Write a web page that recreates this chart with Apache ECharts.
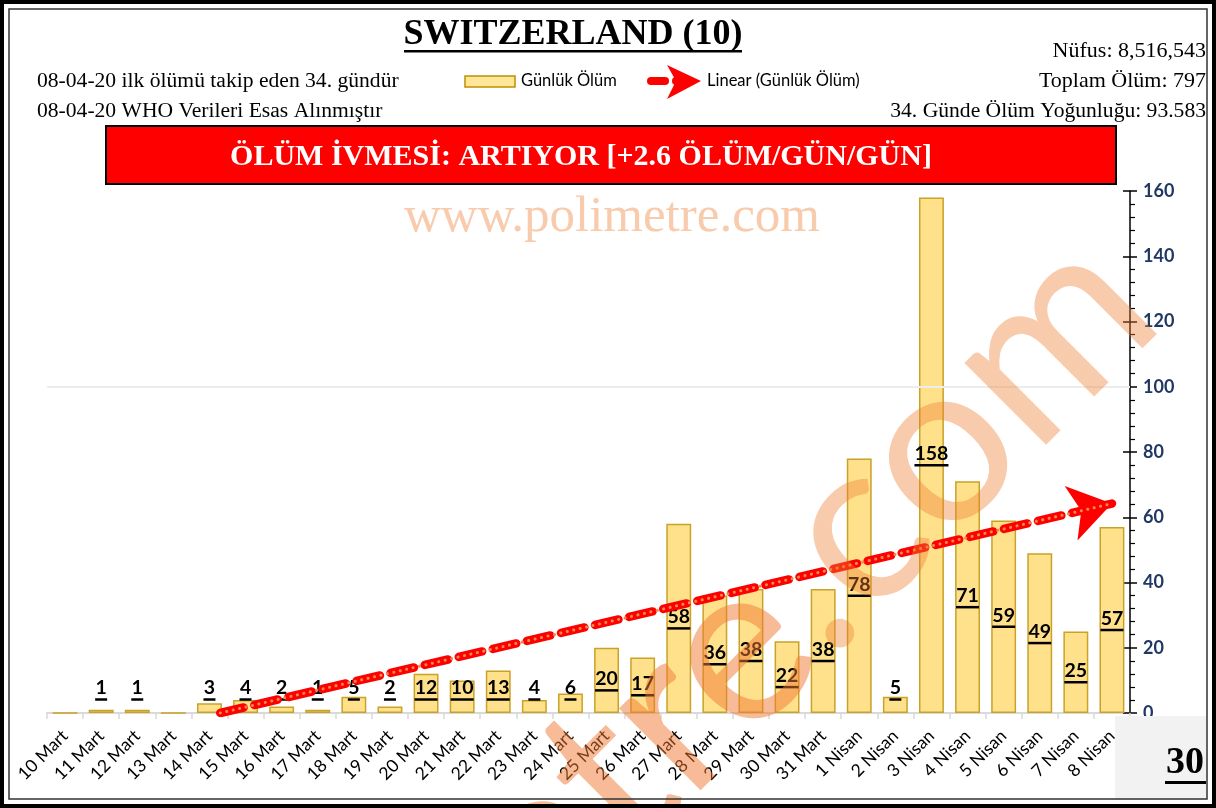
<!DOCTYPE html>
<html>
<head>
<meta charset="utf-8">
<script src="https://cdn.jsdelivr.net/npm/echarts@6/dist/echarts.min.js"></script>
<style>
html,body{margin:0;padding:0;background:#fff;}
#chart{width:1216px;height:808px;}
</style>
</head>
<body>
<div id="chart"></div>
<script>
// ---- data ----
const categories = ['10 Mart','11 Mart','12 Mart','13 Mart','14 Mart','15 Mart','16 Mart','17 Mart','18 Mart','19 Mart',
  '20 Mart','21 Mart','22 Mart','23 Mart','24 Mart','25 Mart','26 Mart','27 Mart','28 Mart','29 Mart','30 Mart','31 Mart',
  '1 Nisan','2 Nisan','3 Nisan','4 Nisan','5 Nisan','6 Nisan','7 Nisan','8 Nisan'];
const deaths = [0,1,1,0,3,4,2,1,5,2,12,10,13,4,6,20,17,58,36,38,22,38,78,5,158,71,59,49,25,57];
// linear trend end points (category index, value)
const trendX = [4.3, 29];
const trendY = [0, 64.2];
const yMin = 0, yMax = 160, yStep = 20;

const title = 'SWITZERLAND (10)';
const leftNotes = ['08-04-20 ilk ölümü takip eden 34. gündür', '08-04-20 WHO Verileri Esas Alınmıştır'];
const rightNotes = ['Nüfus: 8,516,543', 'Toplam Ölüm: 797', '34. Günde Ölüm Yoğunluğu: 93.583'];
const banner = 'ÖLÜM İVMESİ: ARTIYOR [+2.6 ÖLÜM/GÜN/GÜN]';
const seriesNames = ['Günlük Ölüm', 'Linear (Günlük Ölüm)'];
const dayCount = '30';
const watermarkParts = ['polim', 'etre', '.com'];

// ---- chart ----
const chart = echarts.init(document.getElementById('chart'), null, {renderer: 'canvas'});
const SERIF = '"Liberation Serif","Times New Roman",serif';
const SANS = 'Lato,"Liberation Sans",sans-serif';

const W = 1216, H = 808;
const G = {left: 47, right: 86, top: 191, bottom: 95};
const gridW = W - G.left - G.right;

const barData = deaths.map(v => ({
  value: v,
  label: v < 14 ? {position: 'insideBottom', distance: 12} : {}
}));

const trendSeg = [[trendX[0], trendY[0]], [trendX[1], trendY[1]]];

// diagonal watermark, split in parts with fading colour
const wmFont = '228px ' + SANS;
const ctx = document.createElement('canvas').getContext('2d');
ctx.font = wmFont;
const wmColors = ['rgba(255,95,10,0.72)', 'rgba(240,120,50,0.5)', 'rgba(237,125,49,0.4)'];
const wmAngle = Math.PI / 4;
const wmEnd = [1196, 352];
const wmGraphics = [];
let back = 0;
for (let i = watermarkParts.length - 1; i >= 0; i--) {
  const x = wmEnd[0] - back * Math.cos(wmAngle);
  const y = wmEnd[1] + back * Math.sin(wmAngle);
  wmGraphics.push({type: 'text', x: x, y: y, rotation: wmAngle, silent: true, z: 30,
    style: {text: watermarkParts[i], font: wmFont, fill: wmColors[i], textAlign: 'right', textVerticalAlign: 'bottom'}});
  back += ctx.measureText(watermarkParts[i]).width;
}

const option = {
  animation: false,
  backgroundColor: '#ffffff',
  grid: {left: G.left, right: G.right, top: G.top, bottom: G.bottom, containLabel: false},
  xAxis: [{
    type: 'category',
    data: categories,
    axisLine: {show: true, lineStyle: {color: '#D9D9D9', width: 2}},
    axisTick: {show: true, length: 6, lineStyle: {color: '#D9D9D9', width: 1.5}},
    axisLabel: {rotate: 45, interval: 0, fontFamily: SANS, fontSize: 17.5, color: '#000', margin: 20},
    splitLine: {show: false}
  }, {
    type: 'value', min: -0.5, max: 29.5, show: false
  }],
  yAxis: [{
    type: 'value', position: 'right', offset: 0, min: yMin, max: yMax, interval: yStep,
    axisLine: {show: true, onZero: false, lineStyle: {color: '#000', width: 1.5}},
    axisTick: {show: true, length: 7, inside: false, lineStyle: {color: '#000', width: 1.5}},
    minorTick: {show: true, splitNumber: 5, length: 5, lineStyle: {color: '#000', width: 1.2}},
    axisLabel: {fontFamily: SANS, fontWeight: 'bold', fontSize: 18, color: '#1F3864', margin: 13},
    splitLine: {show: false}
  }, {
    type: 'value', position: 'left', offset: -gridW, min: yMin, max: yMax, interval: yStep,
    axisLine: {show: false, onZero: false},
    axisTick: {show: true, length: 7, inside: false, lineStyle: {color: '#000', width: 1.5}},
    axisLabel: {show: false},
    splitLine: {show: false}
  }],
  series: [{
    name: seriesNames[0],
    type: 'bar',
    data: barData,
    barWidth: '69%',
    itemStyle: {color: '#FFE18C', borderColor: '#C9A227', borderWidth: 1.5},
    label: {
      show: true,
      position: 'inside',
      formatter: p => p.value ? `{v|${p.value}}\n{u${String(p.value).length}|}` : '',
      rich: {
        v: {fontFamily: SANS, fontWeight: 'bold', fontSize: 19.5, color: '#000', lineHeight: 20, align: 'center'},
        u1: {width: 12, height: 2.5, lineHeight: 3, backgroundColor: '#000', align: 'center'},
        u2: {width: 23, height: 2.5, lineHeight: 3, backgroundColor: '#000', align: 'center'},
        u3: {width: 34, height: 2.5, lineHeight: 3, backgroundColor: '#000', align: 'center'}
      }
    },
    markLine: {
      silent: true, symbol: 'none', label: {show: false},
      lineStyle: {color: '#EDEDED', width: 2, type: 'solid'},
      data: [{yAxis: 100}]
    },
    z: 2
  }, {
    name: seriesNames[1],
    type: 'lines',
    coordinateSystem: 'cartesian2d',
    xAxisIndex: 1, yAxisIndex: 0,
    data: [{coords: trendSeg}],
    symbol: ['none', 'arrow'],
    symbolSize: [0, 42],
    lineStyle: {color: '#FF0000', width: 8.5, type: [24, 11], cap: 'round', opacity: 1, curveness: 0},
    z: 4
  }, {
    name: seriesNames[1] + ' dots',
    type: 'lines',
    coordinateSystem: 'cartesian2d',
    xAxisIndex: 1, yAxisIndex: 0,
    data: [{coords: trendSeg}],
    symbol: ['none', 'none'],
    lineStyle: {color: '#F08A4B', width: 3, type: [0.1, 6.5], cap: 'round', opacity: 1, curveness: 0},
    z: 5
  }],
  graphic: [
    // outer frame
    {type: 'rect', shape: {x: 2, y: 2, width: 1212, height: 804}, style: {fill: 'none', stroke: '#000', lineWidth: 4}, z: 100},
    {type: 'rect', shape: {x: 9, y: 9, width: 1198, height: 790}, style: {fill: 'none', stroke: '#333', lineWidth: 1.5}, z: 100},
    // top watermark
    {type: 'text', x: 612, y: 218, style: {text: 'www.polimetre.com', font: '51px ' + SERIF, fill: '#F8CBAD', textAlign: 'center', textVerticalAlign: 'middle'}, z: 1},
    // title
    {type: 'text', x: 573, y: 35, style: {text: title, font: 'bold 36px ' + SERIF, fill: '#000', textAlign: 'center', textVerticalAlign: 'middle'}, z: 50},
    {type: 'rect', shape: {x: 404, y: 50, width: 338, height: 2.5}, style: {fill: '#000'}, z: 50},
    // left notes
    {type: 'text', x: 37, y: 81, style: {text: leftNotes[0], font: '21.6px ' + SERIF, fill: '#000', textAlign: 'left', textVerticalAlign: 'middle'}, z: 50},
    {type: 'text', x: 37, y: 111, style: {text: leftNotes[1], font: '21.6px ' + SERIF, fill: '#000', textAlign: 'left', textVerticalAlign: 'middle'}, z: 50},
    // right notes
    {type: 'text', x: 1206, y: 51, style: {text: rightNotes[0], font: '22px ' + SERIF, fill: '#000', textAlign: 'right', textVerticalAlign: 'middle'}, z: 50},
    {type: 'text', x: 1206, y: 81, style: {text: rightNotes[1], font: '22px ' + SERIF, fill: '#000', textAlign: 'right', textVerticalAlign: 'middle'}, z: 50},
    {type: 'text', x: 1206, y: 111, style: {text: rightNotes[2], font: '21.6px ' + SERIF, fill: '#000', textAlign: 'right', textVerticalAlign: 'middle'}, z: 50},
    // legend
    {type: 'rect', shape: {x: 465, y: 76, width: 50, height: 11}, style: {fill: '#FFE699', stroke: '#BF9000', lineWidth: 1.5}, z: 50},
    {type: 'text', x: 521, y: 81, style: {text: seriesNames[0], font: '16.5px ' + SANS, fill: '#000', textAlign: 'left', textVerticalAlign: 'middle'}, z: 50},
    {type: 'line', shape: {x1: 651, y1: 81, x2: 665, y2: 81}, style: {stroke: '#FF0000', lineWidth: 8, lineCap: 'round'}, z: 50},
    {type: 'circle', shape: {cx: 676, cy: 81, r: 4}, style: {fill: '#FF0000'}, z: 50},
    {type: 'polygon', shape: {points: [[667, 65], [701, 81], [667, 99], [676, 81]]}, style: {fill: '#FF0000'}, z: 50},
    {type: 'text', x: 707, y: 81, style: {text: seriesNames[1], font: '16.5px ' + SANS, fill: '#000', textAlign: 'left', textVerticalAlign: 'middle'}, z: 50},
    // banner
    {type: 'rect', shape: {x: 106, y: 126, width: 1010, height: 58}, style: {fill: '#FF0000', stroke: '#000', lineWidth: 2}, z: 50},
    {type: 'text', x: 581, y: 157, style: {text: banner, font: 'bold 30px ' + SERIF, fill: '#FFFFFF', textAlign: 'center', textVerticalAlign: 'middle'}, z: 51},
    // bottom right day box
    {type: 'rect', shape: {x: 1115, y: 716, width: 91, height: 84}, style: {fill: '#F2F2F2'}, z: 40},
    {type: 'text', x: 1185, y: 763, style: {text: dayCount, font: 'bold 38px ' + SERIF, fill: '#000', textAlign: 'center', textVerticalAlign: 'middle'}, z: 50},
    {type: 'rect', shape: {x: 1165, y: 781, width: 41, height: 3}, style: {fill: '#000'}, z: 50}
  ].concat(wmGraphics)
};
chart.setOption(option);
</script>
</body>
</html>
